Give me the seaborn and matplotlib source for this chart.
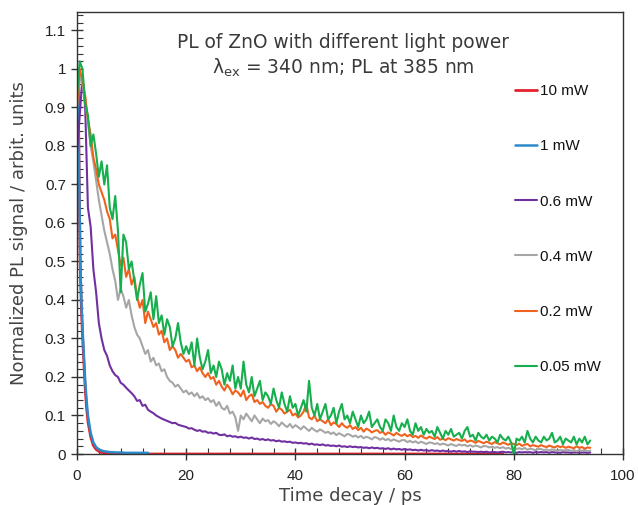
import numpy as np
import pandas as pd
import matplotlib
matplotlib.use("Agg")
import matplotlib.pyplot as plt
from matplotlib.ticker import MultipleLocator, FormatStrFormatter
import seaborn as sns

# ---- data -----------------------------------------------------------------
# common time grid of the low-power scans (ps)
time_ps = np.arange(0, 94.01, 0.5)

pl_005mW = [
    0.93, 1.02, 1.00, 0.91, 0.88, 0.80, 0.83, 0.78, 0.72, 0.76,
    0.70, 0.75, 0.64, 0.61, 0.67, 0.58, 0.42, 0.57, 0.55, 0.48,
    0.50, 0.45, 0.40, 0.44, 0.47, 0.37, 0.39, 0.42, 0.35, 0.41,
    0.34, 0.36, 0.31, 0.35, 0.33, 0.28, 0.30, 0.34, 0.29, 0.26,
    0.28, 0.26, 0.29, 0.23, 0.30, 0.25, 0.22, 0.24, 0.27, 0.21,
    0.23, 0.20, 0.24, 0.22, 0.18, 0.21, 0.19, 0.23, 0.17, 0.20,
    0.17, 0.24, 0.18, 0.16, 0.20, 0.15, 0.17, 0.19, 0.14, 0.16,
    0.15, 0.13, 0.17, 0.14, 0.12, 0.16, 0.13, 0.11, 0.15, 0.12,
    0.13, 0.10, 0.12, 0.14, 0.11, 0.19, 0.12, 0.10, 0.13, 0.09,
    0.11, 0.13, 0.09, 0.10, 0.12, 0.08, 0.11, 0.13, 0.09, 0.10,
    0.08, 0.11, 0.09, 0.07, 0.10, 0.08, 0.09, 0.11, 0.07, 0.08,
    0.09, 0.07, 0.06, 0.09, 0.08, 0.06, 0.10, 0.07, 0.06, 0.08,
    0.07, 0.09, 0.06, 0.05, 0.08, 0.06, 0.07, 0.05, 0.065, 0.055,
    0.06, 0.045, 0.07, 0.055, 0.04, 0.06, 0.05, 0.065, 0.045, 0.05,
    0.055, 0.04, 0.06, 0.07, 0.045, 0.05, 0.035, 0.055, 0.045, 0.04,
    0.05, 0.035, 0.045, 0.04, 0.03, 0.05, 0.04, 0.035, 0.045, 0.03,
    0.0, 0.04, 0.035, 0.045, 0.03, 0.06, 0.04, 0.03, 0.045, 0.035,
    0.03, 0.045, 0.035, 0.04, 0.055, 0.03, 0.035, 0.045, 0.025, 0.04,
    0.035, 0.03, 0.045, 0.025, 0.04, 0.03, 0.045, 0.025, 0.035,
]

pl_02mW = [
    0.90, 1.00, 0.97, 0.93, 0.87, 0.83, 0.77, 0.74, 0.70, 0.68,
    0.66, 0.63, 0.61, 0.56, 0.57, 0.53, 0.49, 0.51, 0.46, 0.48,
    0.44, 0.46, 0.41, 0.38, 0.40, 0.34, 0.37, 0.35, 0.33, 0.34,
    0.31, 0.32, 0.29, 0.30, 0.27, 0.28, 0.27, 0.25, 0.26, 0.25,
    0.24, 0.245, 0.225, 0.23, 0.215, 0.225, 0.21, 0.20, 0.21, 0.195,
    0.20, 0.18, 0.19, 0.175, 0.165, 0.18, 0.17, 0.155, 0.165, 0.16,
    0.15, 0.165, 0.14, 0.15, 0.155, 0.135, 0.14, 0.13, 0.135, 0.125,
    0.12, 0.13, 0.125, 0.11, 0.12, 0.115, 0.105, 0.11, 0.115, 0.10,
    0.105, 0.095, 0.10, 0.11, 0.13, 0.095, 0.09, 0.10, 0.085, 0.09,
    0.085, 0.08, 0.09, 0.075, 0.082, 0.078, 0.07, 0.08, 0.072, 0.068,
    0.075, 0.065, 0.07, 0.062, 0.068, 0.058, 0.066, 0.062, 0.056, 0.06,
    0.062, 0.055, 0.058, 0.05, 0.056, 0.053, 0.048, 0.055, 0.05, 0.047,
    0.052, 0.046, 0.05, 0.044, 0.047, 0.042, 0.048, 0.043, 0.04, 0.045,
    0.042, 0.039, 0.044, 0.037, 0.04, 0.036, 0.041, 0.038, 0.035, 0.039,
    0.036, 0.034, 0.038, 0.031, 0.035, 0.033, 0.029, 0.034, 0.031, 0.028,
    0.032, 0.029, 0.026, 0.031, 0.028, 0.025, 0.03, 0.027, 0.024, 0.028,
    0.026, 0.023, 0.027, 0.021, 0.024, 0.026, 0.02, 0.023, 0.021, 0.019,
    0.023, 0.02, 0.018, 0.022, 0.019, 0.017, 0.021, 0.018, 0.02, 0.016,
    0.019, 0.017, 0.015, 0.02, 0.016, 0.018, 0.014, 0.017, 0.016,
]

pl_04mW = [
    0.90, 0.98, 0.96, 0.92, 0.86, 0.80, 0.76, 0.71, 0.66, 0.62,
    0.58, 0.55, 0.52, 0.48, 0.45, 0.40, 0.43, 0.41, 0.38, 0.40,
    0.36, 0.33, 0.31, 0.30, 0.28, 0.26, 0.27, 0.24, 0.25, 0.23,
    0.235, 0.215, 0.22, 0.20, 0.19, 0.185, 0.175, 0.18, 0.17, 0.16,
    0.165, 0.155, 0.16, 0.15, 0.158, 0.145, 0.15, 0.14, 0.145, 0.135,
    0.14, 0.125, 0.135, 0.12, 0.115, 0.125, 0.105, 0.11, 0.095, 0.06,
    0.10, 0.09, 0.105, 0.095, 0.085, 0.10, 0.09, 0.08, 0.092, 0.085,
    0.088, 0.078, 0.085, 0.08, 0.072, 0.082, 0.075, 0.07, 0.078, 0.068,
    0.075, 0.07, 0.064, 0.072, 0.066, 0.06, 0.068, 0.062, 0.058, 0.064,
    0.06, 0.055, 0.058, 0.052, 0.056, 0.049, 0.054, 0.05, 0.046, 0.052,
    0.05, 0.045, 0.048, 0.043, 0.047, 0.041, 0.045, 0.042, 0.038, 0.044,
    0.042, 0.037, 0.041, 0.036, 0.039, 0.034, 0.038, 0.035, 0.032, 0.036,
    0.036, 0.031, 0.034, 0.03, 0.033, 0.028, 0.032, 0.029, 0.026, 0.03,
    0.029, 0.026, 0.028, 0.024, 0.027, 0.025, 0.022, 0.026, 0.023, 0.021,
    0.025, 0.022, 0.024, 0.02, 0.023, 0.019, 0.022, 0.02, 0.017, 0.021,
    0.02, 0.017, 0.019, 0.016, 0.018, 0.015, 0.018, 0.014, 0.016, 0.013,
    0.017, 0.013, 0.015, 0.012, 0.016, 0.011, 0.014, 0.012, 0.01, 0.013,
    0.013, 0.01, 0.012, 0.009, 0.012, 0.01, 0.008, 0.011, 0.009, 0.01,
    0.011, 0.008, 0.01, 0.007, 0.01, 0.008, 0.011, 0.007, 0.009,
]

pl_06mW = [
    0.78, 0.88, 0.98, 0.90, 0.64, 0.59, 0.48, 0.42, 0.34, 0.30,
    0.27, 0.255, 0.23, 0.215, 0.205, 0.20, 0.185, 0.18, 0.172, 0.165,
    0.158, 0.15, 0.138, 0.14, 0.125, 0.128, 0.115, 0.11, 0.106, 0.10,
    0.096, 0.092, 0.089, 0.086, 0.083, 0.08, 0.081, 0.076, 0.074, 0.072,
    0.07, 0.066, 0.067, 0.063, 0.06, 0.062, 0.058, 0.059, 0.055, 0.056,
    0.053, 0.055, 0.05, 0.049, 0.051, 0.046, 0.048, 0.045, 0.046, 0.043,
    0.045, 0.042, 0.043, 0.04, 0.043, 0.039, 0.04, 0.037, 0.039, 0.036,
    0.038, 0.035, 0.036, 0.033, 0.035, 0.032, 0.033, 0.031, 0.032, 0.029,
    0.03, 0.028, 0.029, 0.027, 0.028, 0.025, 0.027, 0.024, 0.025, 0.023,
    0.025, 0.022, 0.023, 0.021, 0.022, 0.02, 0.022, 0.019, 0.02, 0.018,
    0.02, 0.018, 0.019, 0.017, 0.018, 0.016, 0.017, 0.015, 0.017, 0.015,
    0.016, 0.014, 0.015, 0.013, 0.015, 0.012, 0.014, 0.012, 0.013, 0.011,
    0.013, 0.011, 0.012, 0.01, 0.011, 0.009, 0.011, 0.009, 0.01, 0.008,
    0.01, 0.008, 0.009, 0.007, 0.009, 0.007, 0.008, 0.006, 0.008, 0.006,
    0.008, 0.006, 0.007, 0.005, 0.007, 0.006, 0.006, 0.005, 0.006, 0.005,
    0.006, 0.004, 0.005, 0.005, 0.004, 0.005, 0.006, 0.004, 0.005, 0.004,
    0.005, 0.003, 0.005, 0.004, 0.005, 0.004, 0.005, 0.003, 0.005, 0.004,
    0.005, 0.004, 0.005, 0.003, 0.005, 0.004, 0.004, 0.003, 0.005, 0.004,
    0.004, 0.003, 0.004, 0.004, 0.003, 0.004, 0.004, 0.003, 0.004,
]

# fast decays of the high-power scans
time_1mW = [0, 0.2, 0.4, 0.6, 0.8, 1.0, 1.25, 1.5, 1.75, 2.0, 2.5, 3.0,
            3.5, 4.0, 4.5, 5, 6, 7, 8, 9, 10, 11, 12, 13]
pl_1mW = [0.75, 1.0, 0.72, 0.50, 0.40, 0.33, 0.26, 0.19, 0.14, 0.10, 0.055,
          0.03, 0.018, 0.012, 0.009, 0.007, 0.005, 0.004, 0.004, 0.003,
          0.003, 0.003, 0.003, 0.003]

time_10mW = [0, 0.2, 0.4, 0.6, 0.8, 1.0, 1.25, 1.5, 1.75, 2.0, 2.5, 3.0,
             3.5, 4.0, 4.5, 5, 6, 8, 10, 15, 20, 30, 40, 50, 60, 70, 78]
pl_10mW = [0.70, 1.0, 0.70, 0.48, 0.38, 0.31, 0.24, 0.17, 0.12, 0.085,
           0.045, 0.022, 0.012, 0.007, 0.004, 0.003, 0.002, 0.001, 0.0,
           0.0, 0.0, 0.0, 0.0, 0.0, 0.0, 0.0, 0.0]

powers = ["10 mW", "1 mW", "0.6 mW", "0.4 mW", "0.2 mW", "0.05 mW"]
colors = ["#E4222B", "#2C8ACB", "#7030A0", "#A6A6A6", "#F0621E", "#17AF4D"]
widths = [2.0, 1.8, 1.5, 1.5, 1.5, 1.5]

series = {
    "10 mW": (time_10mW, pl_10mW),
    "1 mW": (time_1mW, pl_1mW),
    "0.6 mW": (time_ps, pl_06mW),
    "0.4 mW": (time_ps, pl_04mW),
    "0.2 mW": (time_ps, pl_02mW),
    "0.05 mW": (time_ps, pl_005mW),
}

df = pd.concat(
    [pd.DataFrame({"time": np.asarray(t, float), "signal": v, "power": p})
     for p, (t, v) in series.items()],
    ignore_index=True,
)

# ---- figure ---------------------------------------------------------------
sns.set_style("white")
plt.rcParams["font.family"] = ["Liberation Sans", "DejaVu Sans"]
plt.rcParams["mathtext.fontset"] = "dejavusans"

fig = plt.figure(figsize=(6.38, 5.05), dpi=100)
ax = fig.add_axes([77 / 638, 51 / 505, 546 / 638, 442 / 505])

for p, c, lw in zip(powers, colors, widths):
    sub = df[df["power"] == p]
    sns.lineplot(data=sub, x="time", y="signal", color=c, lw=lw,
                 estimator=None, sort=False, label=p, ax=ax)

ax.set_xlim(0, 100)
ax.set_ylim(0, 1.148)

ax.xaxis.set_major_locator(MultipleLocator(20))
ax.xaxis.set_minor_locator(MultipleLocator(4))
ax.yaxis.set_major_locator(MultipleLocator(0.1))
ax.yaxis.set_minor_locator(MultipleLocator(0.02))
ax.yaxis.set_major_formatter(FormatStrFormatter("%g"))
ax.xaxis.set_major_formatter(FormatStrFormatter("%g"))

ax.tick_params(which="major", direction="inout", length=8, width=1,
               color="#333333", labelsize=11, labelcolor="#222222",
               bottom=True, left=True, top=False, right=False)
ax.tick_params(axis="x", which="major", pad=7)
ax.tick_params(axis="y", which="major", pad=4)
ax.tick_params(which="minor", direction="in", length=4, width=0.8,
               color="#333333", bottom=True, left=True, top=False, right=False)

for s in ax.spines.values():
    s.set_visible(True)
    s.set_color("#333333")
    s.set_linewidth(1.0)

label_font = dict(family="DejaVu Sans", size=13, color="#444444")
ax.set_xlabel("Time decay / ps", labelpad=3, **label_font)
ax.set_ylabel("Normalized PL signal / arbit. units", labelpad=12, **label_font)

title_font = dict(family="DejaVu Sans", size=13.4, color="#3a3a3a",
                  ha="center", va="center", transform=ax.transAxes)
ax.text(0.487, 0.932, "PL of ZnO with different light power", **title_font)
ax.text(0.487, 0.873, "λ$_{\\mathrm{ex}}$ = 340 nm; PL at 385 nm", **title_font)

leg = ax.legend(loc="upper left", bbox_to_anchor=(0.777, 0.868), frameon=False,
                fontsize=11, handlelength=1.45, handletextpad=0.2,
                labelspacing=2.7, borderpad=0.4)
for t in leg.get_texts():
    t.set_color("#111111")

fig.savefig("out.png", dpi=100)
